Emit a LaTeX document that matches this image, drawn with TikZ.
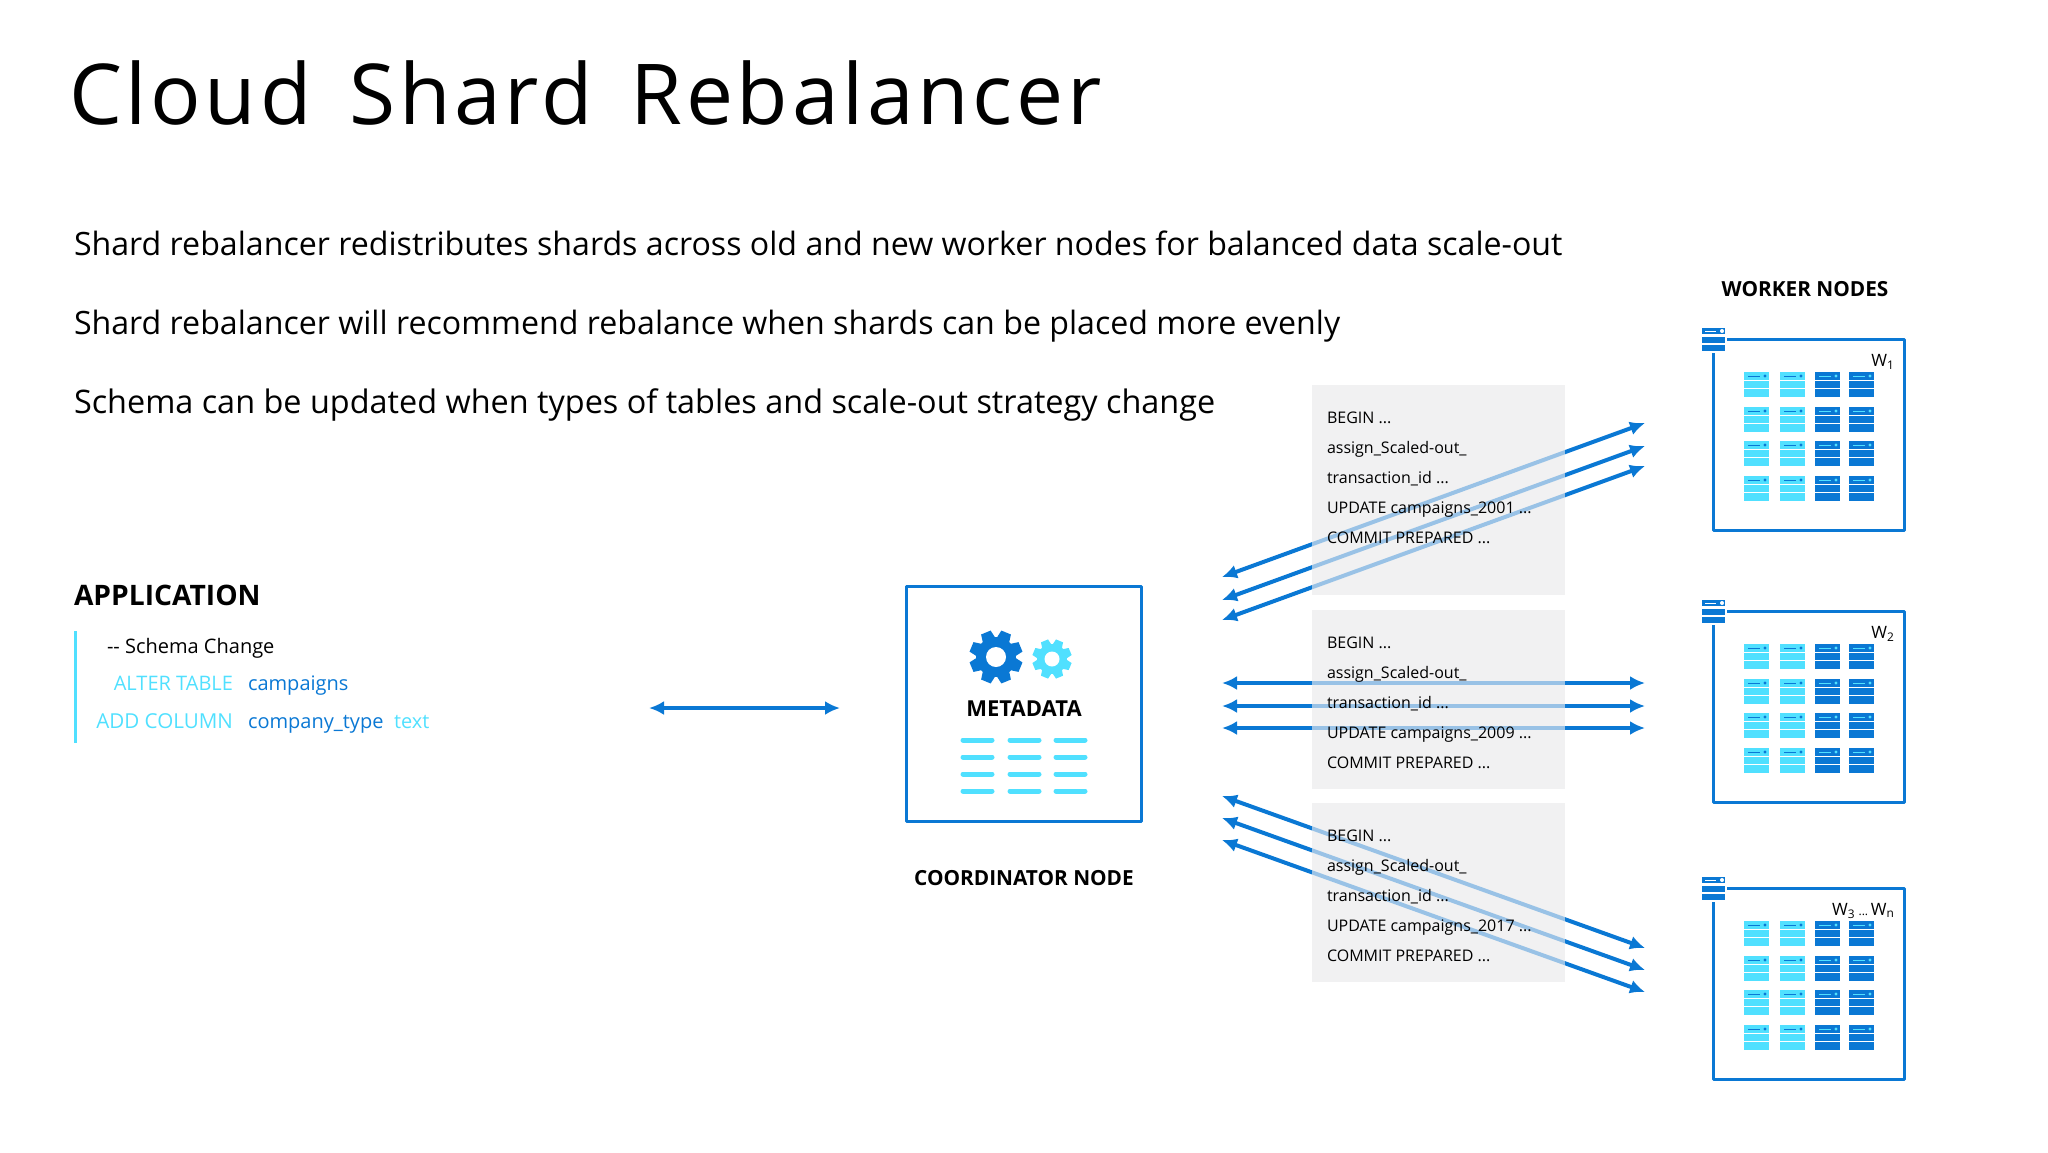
\documentclass[tikz,border=0pt]{standalone}
\usepackage{xcolor}
\usepackage{fontspec}
\usepackage{tikz}
\usetikzlibrary{positioning,arrows.meta}
\setmainfont{Open Sans}
\newfontfamily\titlefont[LetterSpace=4.3,WordSpace=1.5]{Open Sans}
\definecolor{azure}{HTML}{0A78D4}
\definecolor{sky}{HTML}{50E0FF}
\definecolor{panel}{HTML}{F1F1F2}

\begin{document}
\begin{tikzpicture}[x=0.5pt,y=-0.5pt]

\tikzstyle{every node}=[font=\fontsize{16}{20}\selectfont, inner sep=0, outer sep=0]
\tikzstyle{title}=[anchor=mid west, font=\titlefont\fontsize{42}{50}\selectfont]
\tikzstyle{lead}=[anchor=mid west, font=\fontsize{16.07}{20}\selectfont]
\tikzstyle{head}=[font=\fontsize{10.4}{14}\selectfont\bfseries]
\tikzstyle{code}=[anchor=mid west, font=\fontsize{10}{14}\selectfont]
\tikzstyle{sql}=[anchor=north west, align=left, font=\fontsize{8}{15}\selectfont]
\tikzstyle{flow}=[{Latex[length=7.5pt,width=7pt]}-{Latex[length=7.5pt,width=7pt]}, azure, line width=2pt]
\tikzstyle{frame}=[azure, line width=1.5pt, line join=round]

\useasboundingbox (0,0) rectangle (2048,1152);

% text %
\node[title] (title) at (69,119) {Cloud Shard Rebalancer};
\node[lead] (lead1) at (74,250) {Shard rebalancer redistributes shards across old and new worker nodes for balanced data scale-out};
\node[lead] (lead2) at (74,329) {Shard rebalancer will recommend rebalance when shards can be placed more evenly};
\node[lead, font=\fontsize{16.2}{20}\selectfont] (lead3) at (74,408) {Schema can be updated when types of tables and scale-out strategy change};

% application %
\node[head, anchor=mid west, font=\fontsize{14.1}{18}\selectfont\bfseries] (app) at (74,600) {APPLICATION};
\fill[sky] (73.5,631) rectangle (77,743);
\node[code] (change) at (107,648) {-{}- Schema Change};
\node[code, sky, anchor=mid east] (alter) at (233,685) {ALTER TABLE};
\node[code, azure] (camp) at (248,685) {campaigns};
\node[code, sky, anchor=mid east, font=\fontsize{10.3}{14}\selectfont] (add) at (233,723) {ADD COLUMN};
\node[code, azure] (ctype) at (248,723) {company\_type};
\node[code, sky] (ttext) at (394,723) {text};

\coordinate (appl) at (649,708);
\coordinate (appr) at (840,708);
\draw[flow] (appl) -- (appr);

% coordinator %
\draw[frame] (906,586) rectangle (1141,821);
\node[head, font=\fontsize{11}{14}\selectfont\bfseries] (meta) at (1024,709) {METADATA};
\node[head] (coord) at (1024,878) {COORDINATOR NODE};
\foreach \gx/\gy/\ro/\ri/\hole/\shade in {996/657/27/20/10/azure, 1052/659/20/15/7.5/sky} {
  \begin{scope}[shift={(\gx,\gy)}]
    \fill[\shade] (3.5:\ri) \foreach \a in {22.5,67.5,...,337.5} {
      -- (\a-19:\ri) -- (\a-11:\ro) -- (\a+11:\ro) -- (\a+19:\ri)
    } -- cycle;
    \fill[white] (0,0) circle (\hole*0.5pt);
  \end{scope}
}
\foreach \px in {961,1008,1054}
  \foreach \py in {740,757,774,791}
    \draw[sky, line width=2.5pt, line cap=round] (\px+2,\py) -- (\px+31,\py);

% panels %
\fill[panel] (1312,385) rectangle (1565,595);
\fill[panel] (1312,610) rectangle (1565,789);
\fill[panel] (1312,803) rectangle (1565,982);

% edges %
\coordinate (a1) at (1222,577); \coordinate (b1) at (1645,423);
\coordinate (a2) at (1222,600); \coordinate (b2) at (1645,446);
\coordinate (a3) at (1222,620); \coordinate (b3) at (1645,466);
\coordinate (c1) at (1222,683); \coordinate (d1) at (1645,683);
\coordinate (c2) at (1222,706); \coordinate (d2) at (1645,706);
\coordinate (c3) at (1222,728); \coordinate (d3) at (1645,728);
\coordinate (e1) at (1222,796); \coordinate (f1) at (1645,948);
\coordinate (e2) at (1222,818); \coordinate (f2) at (1645,970);
\coordinate (e3) at (1222,840); \coordinate (f3) at (1645,992);
\draw[flow] (a1) -- (b1);
\draw[flow] (a2) -- (b2);
\draw[flow] (a3) -- (b3);
\draw[flow] (c1) -- (d1);
\draw[flow] (c2) -- (d2);
\draw[flow] (c3) -- (d3);
\draw[flow] (e1) -- (f1);
\draw[flow] (e2) -- (f2);
\draw[flow] (e3) -- (f3);

\fill[panel, fill opacity=0.62] (1312,385) rectangle (1565,595);
\fill[panel, fill opacity=0.62] (1312,610) rectangle (1565,789);
\fill[panel, fill opacity=0.62] (1312,803) rectangle (1565,982);

\node[sql] (sql1) at (1327,412) {BEGIN ...\\assign\_Scaled-out\_\\transaction\_id ...\\UPDATE campaigns\_2001 ...\\COMMIT PREPARED ...};
\node[sql] (sql2) at (1327,637) {BEGIN ...\\assign\_Scaled-out\_\\transaction\_id ...\\UPDATE campaigns\_2009 ...\\COMMIT PREPARED ...};
\node[sql] (sql3) at (1327,830) {BEGIN ...\\assign\_Scaled-out\_\\transaction\_id ...\\UPDATE campaigns\_2017 ...\\COMMIT PREPARED ...};

% workers %
\node[head] (workers) at (1805,289) {WORKER NODES};
\foreach \off/\lab/\wname in {0/{W\textsubscript{1}}/w1, 272/{W\textsubscript{2}}/w2, 549/{W\textsubscript{3}\,{\fontsize{6}{6}\selectfont...}\,W\textsubscript{n}}/w3} {
  \begin{scope}[shift={(0,\off)}]
    \draw[frame] (1727,339) -- (1904,339) -- (1904,530) -- (1713,530) -- (1713,353);
    \foreach \py in {328,336.5,345} \fill[azure] (1702,\py) rectangle (1725,\py+6);
    \draw[white, line width=0.5pt] (1705,331) -- (1716,331);
    \fill[white] (1722,331) circle (1pt);
    \node[anchor=mid east, font=\fontsize{8.5}{12}\selectfont] (\wname) at (1895,361) {\lab};
    \foreach \py in {372,407,441,476} {
      \foreach \px/\shade/\mark in {1744/sky/azure, 1780/sky/azure, 1815/azure/sky, 1849/azure/sky} {
        \foreach \dy in {0,8.5,17} \fill[\shade] (\px,\py+\dy) rectangle (\px+25,\py+\dy+7.5);
        \draw[\mark, line width=0.4pt] (\px+4,\py+4) -- (\px+16,\py+4);
        \fill[\mark] (\px+21,\py+4) circle (0.8pt);
      }
    }
  \end{scope}
}

\end{tikzpicture}
\end{document}
